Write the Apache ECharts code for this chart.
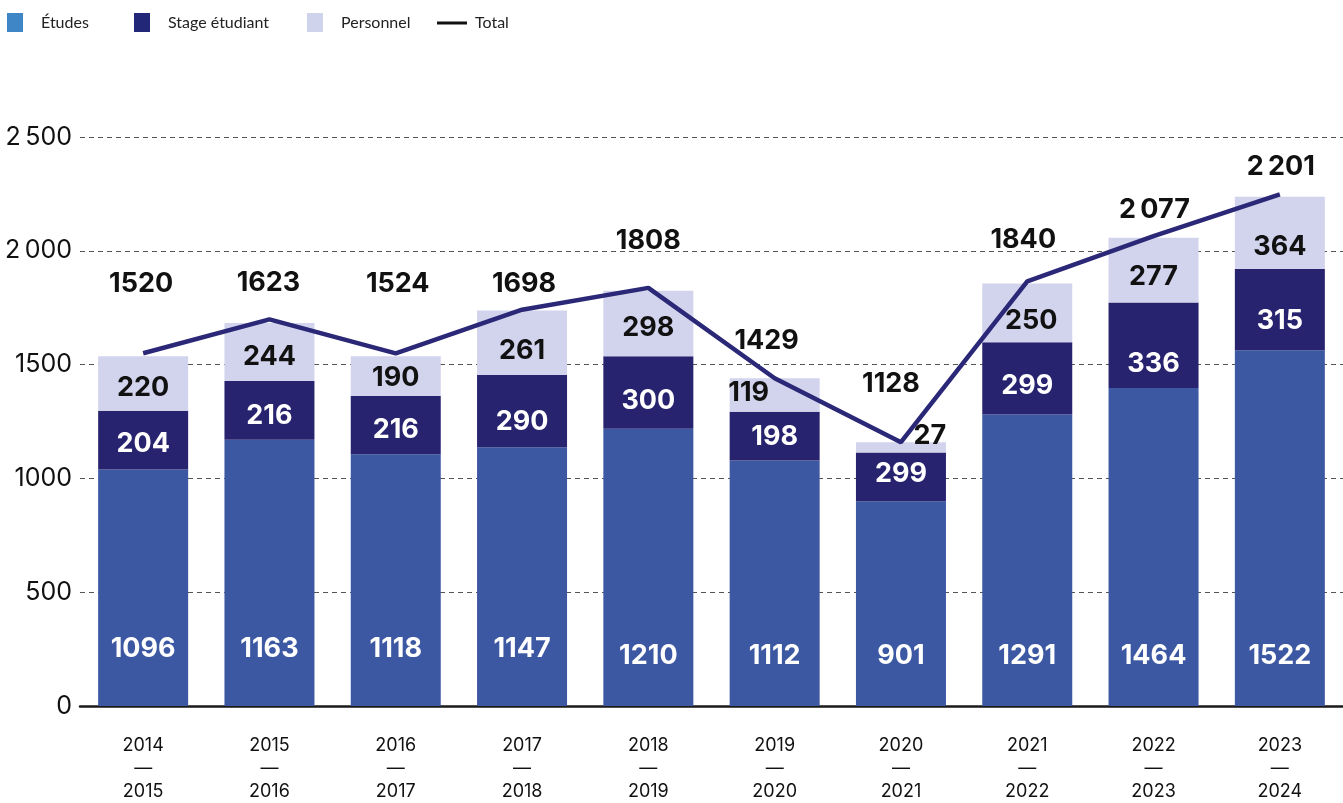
<!DOCTYPE html>
<html>
<head>
<meta charset="utf-8">
<script src="https://cdn.jsdelivr.net/npm/echarts@6/dist/echarts.min.js"></script>
<style>
  html, body { margin: 0; padding: 0; background: #fff; }
  #chart { width: 1343px; height: 803px; }
</style>
</head>
<body>
<div id="chart"></div>
<script>
// années universitaires
const categories = ['2014\n—\n2015', '2015\n—\n2016', '2016\n—\n2017', '2017\n—\n2018', '2018\n—\n2019',
                    '2019\n—\n2020', '2020\n—\n2021', '2021\n—\n2022', '2022\n—\n2023', '2023\n—\n2024'];

// hauteurs des barres
const etudes    = [1039, 1170, 1106, 1137, 1218, 1079, 900, 1281, 1397, 1563];
const stage     = [258, 258, 256, 317, 319, 214, 214, 317, 376, 357];
const personnel = [240, 255, 175, 284, 288, 147, 45, 258, 284, 317];
const total     = [1550, 1699, 1549, 1741, 1837, 1440, 1159, 1866, 2064, 2248];

// valeurs affichées dans les étiquettes
const etudesLabels    = [1096, 1163, 1118, 1147, 1210, 1112, 901, 1291, 1464, 1522];
const stageLabels     = [204, 216, 216, 290, 300, 198, 299, 299, 336, 315];
const personnelLabels = [220, 244, 190, 261, 298, 119, 27, 250, 277, 364];
const totalLabels     = [1520, 1623, 1524, 1698, 1808, 1429, 1128, 1840, 2077, 2201];

// décalages des étiquettes (px)
const etudesShift    = [[0, -7], [0, -7], [0, -7], [0, -7], [0, 0], [0, 0], [0, 0], [0, 0], [0, 0], [0, 0]];
const stageShift     = [[0, 4], [0, 6], [0, 5], [0, 11], [0, 8], [0, 1], [0, -3], [0, 8], [0, 19], [0, 11]];
const persShift      = [[0, 4], [0, 5], [0, 2], [0, 8], [0, 4], [-26, -2], [29, -11], [4, 8], [0, 7], [0, 14]];
const totalShift     = [[-2, -69], [-1, -36], [2, -70], [2, -26], [0, -47], [-8, -37], [-10, -58], [-4, -41], [1, -26], [1, -27]];

const COLORS = {
    etudes: '#3d58a3',
    stage: '#28236f',
    personnel: '#d2d3ec',
    total: '#2a2877'
};

const fmt = (n) => n >= 2000 ? String(n).replace(/(\d)(\d{3})$/, '$1\u2009$2') : String(n);

const FONT = 'Inter, "Noto Sans", sans-serif';

const labelBase = {
    show: true,
    fontFamily: FONT,
    fontSize: 27,
    fontWeight: 700
};

function items(values, texts, shifts, extra) {
    return values.map((v, i) => ({
        value: v,
        label: Object.assign({ formatter: fmt(texts[i]), offset: shifts[i] }, extra || {})
    }));
}

const chart = echarts.init(document.getElementById('chart'));

const mkLegend = (name, left, top, w, h, gap, style) => ({
    left: left,
    top: top,
    itemWidth: w,
    itemHeight: h,
    selectedMode: false,
    textStyle: { fontFamily: 'Lato, "Open Sans", sans-serif', fontSize: 16, color: '#222', padding: [0, 0, 0, gap] },
    data: [Object.assign({ name: name }, style)]
});

chart.setOption({
    animation: false,
    legend: [
        mkLegend('Études', 2, 8, 16, 19, 13, { icon: 'rect', itemStyle: { color: '#3f86c7' } }),
        mkLegend('Stage étudiant', 129, 8, 16, 19, 13, { icon: 'rect', itemStyle: { color: '#232778' } }),
        mkLegend('Personnel', 302, 8, 16, 19, 13, { icon: 'rect', itemStyle: { color: '#d0d3ec' } }),
        mkLegend('Total', 432, 10, 30, 3, 3, { icon: 'rect', itemStyle: { color: '#111' } })
    ],
    grid: { left: 80, right: -14, top: 137, bottom: 95, containLabel: false },
    xAxis: {
        type: 'category',
        data: categories,
        axisTick: { show: false },
        axisLine: { lineStyle: { color: '#1a1a1a', width: 2.5 } },
        axisLabel: {
            margin: 28,
            fontFamily: FONT,
            fontSize: 18,
            lineHeight: 23,
            color: '#111'
        }
    },
    yAxis: {
        type: 'value',
        min: 0,
        max: 2500,
        interval: 500,
        axisLine: { show: false },
        axisTick: { show: false },
        axisLabel: {
            margin: 8,
            fontFamily: FONT,
            fontSize: 25,
            color: '#111',
            formatter: fmt
        },
        splitLine: { lineStyle: { color: '#555', width: 1, type: [5, 4] } }
    },
    series: [
        {
            name: 'Études',
            type: 'bar',
            stack: 'tot',
            barWidth: 90,
            itemStyle: { color: COLORS.etudes },
            label: Object.assign({}, labelBase, { position: 'insideBottom', distance: 37, color: '#fff' }),
            data: items(etudes, etudesLabels, etudesShift)
        },
        {
            name: 'Stage étudiant',
            type: 'bar',
            stack: 'tot',
            itemStyle: { color: COLORS.stage },
            label: Object.assign({}, labelBase, { position: 'inside', color: '#fff' }),
            data: items(stage, stageLabels, stageShift)
        },
        {
            name: 'Personnel',
            type: 'bar',
            stack: 'tot',
            itemStyle: { color: COLORS.personnel },
            label: Object.assign({}, labelBase, { position: 'inside', color: '#111' }),
            data: items(personnel, personnelLabels, persShift)
        },
        {
            name: 'Total',
            type: 'line',
            symbol: 'circle',
            symbolSize: 1,
            showSymbol: true,
            z: 5,
            lineStyle: { color: COLORS.total, width: 4.5 },
            itemStyle: { color: 'rgba(0,0,0,0)' },
            label: Object.assign({}, labelBase, { position: 'inside', color: '#111' }),
            data: items(total, totalLabels, totalShift)
        }
    ]
});
</script>
</body>
</html>
